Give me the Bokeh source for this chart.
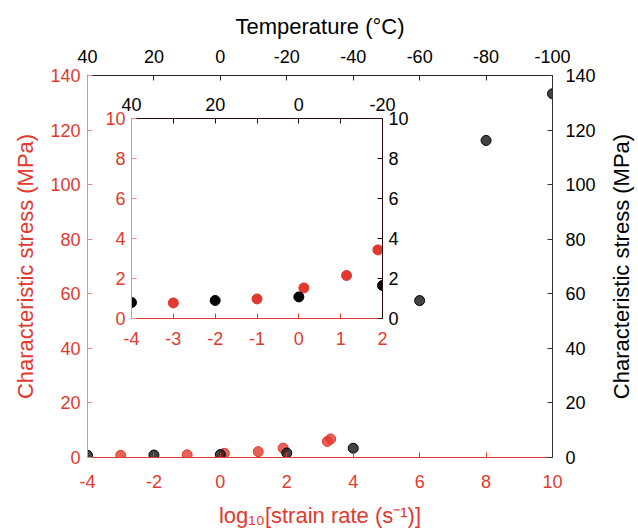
import math
from bokeh.plotting import figure
from bokeh.models import Range1d, LinearAxis, FixedTicker, Label
from bokeh.layouts import column
from bokeh.embed import file_html
from bokeh.resources import INLINE

# ---------------- data ----------------
rate_black = [-4, -2, 0, 2, 4, 6, 8, 10]
stress_black = [0.8, 0.9, 1.08, 1.65, 3.4, 57.5, 116.2, 133.3]
rate_red = [-3, -1, 0.12, 1.14, 1.89, 3.22, 3.32]
stress_red = [0.78, 0.98, 1.53, 2.15, 3.43, 5.9, 6.8]

main_x_ticks = [-4, -2, 0, 2, 4, 6, 8, 10]
main_y_ticks = [0, 20, 40, 60, 80, 100, 120, 140]
main_temp_ticks = [40, 20, 0, -20, -40, -60, -80, -100]
inset_x_ticks = [-4, -3, -2, -1, 0, 1, 2]
inset_y_ticks = [0, 2, 4, 6, 8, 10]
inset_temp_ticks = [40, 20, 0, -20]
inset_temp_minor = [30, 10, -10]

RED = "#E2392E"
BLACK = "#000000"
FONT = "Liberation Sans"


def hyphen_labels(ticks):
    return {t: str(t) for t in ticks}


def style_axis(ax, ticks, color, line_color, label_size="18px", title_size="22px",
               standoff=7, title_standoff=10, tick=5):
    ax.major_label_overrides = hyphen_labels(ticks)
    ax.axis_line_color = line_color
    ax.axis_line_width = 1
    ax.major_tick_line_color = line_color
    ax.minor_tick_line_color = line_color
    ax.major_tick_in = tick
    ax.major_tick_out = 0
    ax.minor_tick_in = tick
    ax.minor_tick_out = 0
    ax.major_label_text_color = color
    ax.major_label_text_font = FONT
    ax.major_label_text_font_size = label_size
    ax.major_label_standoff = standoff
    ax.axis_label_text_color = color
    ax.axis_label_text_font = FONT
    ax.axis_label_text_font_size = title_size
    ax.axis_label_text_font_style = "normal"
    ax.axis_label_standoff = title_standoff


# ---------------- main plot ----------------
main = figure(width=638, height=532, x_range=Range1d(-4, 10), y_range=Range1d(0, 140),
              output_backend="svg", toolbar_location=None,
              x_axis_location=None, y_axis_location=None,
              min_border_left=87, min_border_right=86, min_border_top=75, min_border_bottom=75)
main.extra_x_ranges = {"temp": Range1d(40, -100)}
main.outline_line_color = None
main.xgrid.visible = False
main.ygrid.visible = False

ax_b = LinearAxis(ticker=FixedTicker(ticks=main_x_ticks), axis_label="log₁₀[strain rate (s⁻¹)]")
style_axis(ax_b, main_x_ticks, RED, RED, standoff=17, title_standoff=12)
main.add_layout(ax_b, "below")

ax_l = LinearAxis(ticker=FixedTicker(ticks=main_y_ticks), axis_label="Characteristic stress (MPa)")
style_axis(ax_l, main_y_ticks, RED, "#EE8C86", standoff=7, title_standoff=9)
main.add_layout(ax_l, "left")

ax_r = LinearAxis(ticker=FixedTicker(ticks=main_y_ticks))
style_axis(ax_r, main_y_ticks, BLACK, "#333333", standoff=13)
main.add_layout(ax_r, "right")

# right-hand axis title, reading bottom-to-top like the left one (placed in the right panel)
right_title = Label(x=12.08, y=70, x_units="data", y_units="data",
                    text="Characteristic stress (MPa)", angle=math.pi / 2,
                    text_align="center", text_baseline="middle",
                    text_font=FONT, text_font_size="22px", text_color=BLACK)
main.add_layout(right_title, "right")

ax_t = LinearAxis(x_range_name="temp", ticker=FixedTicker(ticks=main_temp_ticks),
                  axis_label="Temperature (°C)")
style_axis(ax_t, main_temp_ticks, BLACK, "#222222", standoff=13, title_standoff=8)
main.add_layout(ax_t, "above")

main.scatter(rate_red, stress_red, size=10, fill_color=RED, fill_alpha=0.8,
             line_color=RED, line_alpha=1)
main.scatter(rate_black, stress_black, size=10, fill_color="#222222", fill_alpha=0.85,
             line_color=BLACK, line_alpha=1)

# ---------------- inset ----------------
# the column aligns left/right borders with the main plot (87 / 86)
inset = figure(width=424, height=300, x_range=Range1d(-4, 2), y_range=Range1d(0, 10),
               output_backend="svg", toolbar_location=None,
               x_axis_location=None, y_axis_location=None,
               min_border_left=87, min_border_right=86, min_border_top=50, min_border_bottom=50)
inset.extra_x_ranges = {"temp": Range1d(40, -20)}
inset.outline_line_color = None
inset.xgrid.visible = False
inset.ygrid.visible = False
inset.background_fill_color = "white"
inset.border_fill_color = None

ib = LinearAxis(ticker=FixedTicker(ticks=inset_x_ticks))
style_axis(ib, inset_x_ticks, RED, RED, standoff=13)
inset.add_layout(ib, "below")

il = LinearAxis(ticker=FixedTicker(ticks=inset_y_ticks))
style_axis(il, inset_y_ticks, RED, "#EE8C86", standoff=6)
inset.add_layout(il, "left")

ir = LinearAxis(ticker=FixedTicker(ticks=inset_y_ticks))
style_axis(ir, inset_y_ticks, BLACK, "#2a0a0a", standoff=6)
inset.add_layout(ir, "right")

it = LinearAxis(x_range_name="temp",
                ticker=FixedTicker(ticks=inset_temp_ticks, minor_ticks=inset_temp_minor))
style_axis(it, inset_temp_ticks, BLACK, "#2a0a0a", standoff=8)
inset.add_layout(it, "above")

inset.scatter(rate_red[:5], stress_red[:5], size=10, fill_color=RED, line_color=RED)
inset.scatter(rate_black[:4], stress_black[:4], size=10, fill_color=BLACK, line_color=BLACK)

inset.styles = {"position": "absolute", "left": "44px", "top": "68px"}

layout = column(main, inset)
open("out.html", "w").write(file_html(layout, INLINE))
